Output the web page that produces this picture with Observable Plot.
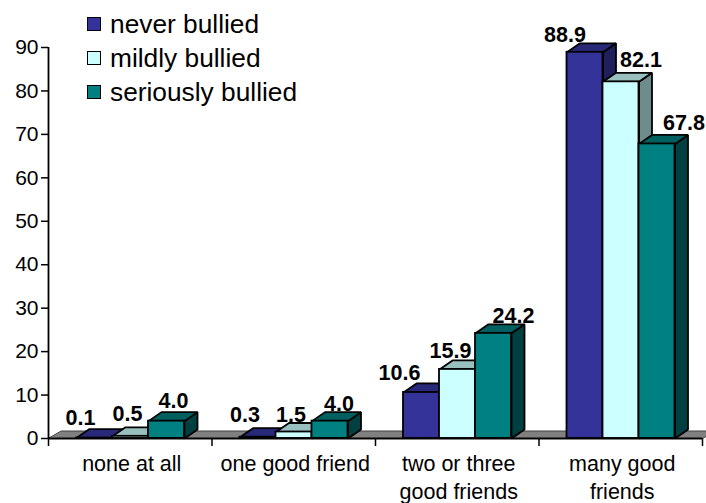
<!DOCTYPE html>
<html>
<head>
<meta charset="utf-8">
<script src="https://cdn.jsdelivr.net/npm/d3@7"></script>
<script src="https://cdn.jsdelivr.net/npm/@observablehq/plot@0.6"></script>
<style>
html,body{margin:0;padding:0;background:#fff}
#wrap{position:relative;width:706px;height:503px;overflow:hidden;font-family:"Liberation Sans",Arial,sans-serif}
#legend{position:absolute;left:87px;top:7px}
.row{display:flex;align-items:center;height:34px;font-size:26.3px;color:#000}
.sw{width:12px;height:12px;border:1.5px solid #000;margin-right:9px}
</style>
</head>
<body>
<div id="wrap"><div id="legend"></div></div>
<script>
const categories = ["none at all", "one good friend", "two or three\ngood friends", "many good\nfriends"];
const seriesNames = ["never bullied", "mildly bullied", "seriously bullied"];
const neverBullied = [0.1, 0.3, 10.6, 88.9];
const mildlyBullied = [0.5, 1.5, 15.9, 82.1];
const seriouslyBullied = [4.0, 4.0, 24.2, 67.8];
const yTicks = [0, 10, 20, 30, 40, 50, 60, 70, 80, 90];

const seriesValues = [neverBullied, mildlyBullied, seriouslyBullied];
const frontColors = ["#333399", "#CCFFFF", "#008080"];
const topColors = ["#29297A", "#99BFBF", "#006060"];
const sideColors = ["#1F1F5C", "#6F8C8C", "#004040"];

// pixel layout
const W = 706, H = 503, mL = 48, mR = 4, mT = 47, mB = 65;
const bandPx = (W - mL - mR) / categories.length;
const yPx = (H - mT - mB) / 90;
const pad = 28 / bandPx, bw = 36 / bandPx;
const ddx = 13 / bandPx, ddy = 9 / yPx, floorDy = 7.5 / yPx;
const edge = 1.8;
// label nudges in pixels from the centre of each bar's front top edge, [series][category]
const nudgeX = [[-14, -13, -22, -20], [-3, -3, -7, 20], [7, 9, 20, 27]];
const nudgeY = [[-13, -15, -12, -10], [-15, -10, -11, -15], [-13, -10, -10, -14]];

const bars = [];
categories.forEach((c, ci) => seriesValues.forEach((vals, si) => {
  const x0 = ci + pad + si * bw;
  bars.push({ci, si, v: vals[ci], x0, x1: x0 + bw});
}));

const poly = (xs, ys, fill) => Plot.line(xs.map((x, i) => ({x, y: ys[i]})), {
  x: "x", y: "y", fill, stroke: "#000", strokeWidth: edge, curve: "linear-closed", strokeLinejoin: "miter"
});

const marks = [
  Plot.line([{x: 0, y: 0}, {x: 4, y: 0}, {x: 4 + ddx, y: floorDy}, {x: ddx, y: floorDy}], {
    x: "x", y: "y", fill: "#808080", stroke: "#404040", strokeWidth: 1, curve: "linear-closed"
  })
];
for (const b of bars) {
  marks.push(
    poly([b.x1, b.x1 + ddx, b.x1 + ddx, b.x1], [0, ddy, b.v + ddy, b.v], sideColors[b.si]),
    poly([b.x0, b.x1, b.x1 + ddx, b.x0 + ddx], [b.v, b.v, b.v + ddy, b.v + ddy], topColors[b.si]),
    Plot.rect([b], {x1: "x0", x2: "x1", y1: 0, y2: "v", fill: frontColors[b.si], stroke: "#000", strokeWidth: edge})
  );
}
marks.push(
  Plot.ruleX([0], {stroke: "#000", strokeWidth: edge}),
  Plot.ruleY([0], {stroke: "#000", strokeWidth: edge}),
  Plot.axisY({ticks: yTicks, tickSize: 7, tickPadding: 3, fontSize: 21, label: null, stroke: "#000", strokeWidth: 1.5, strokeOpacity: 1, fill: "#000"}),
  Plot.axisX({ticks: [0, 1, 2, 3, 4], tickSize: 8, tickFormat: () => "", label: null, stroke: "#000", strokeWidth: 1.5, strokeOpacity: 1}),
  Plot.axisX({ticks: [0.5, 1.5, 2.5, 3.5], tickSize: 0, tickPadding: 13, dx: 1.5, tickFormat: d => categories[Math.floor(d)], label: null, fontSize: 21.5, lineHeight: 1.28, fill: "#000"})
);
for (const b of bars) {
  marks.push(Plot.text([b], {
    x: d => (d.x0 + d.x1) / 2, y: "v", text: d => d.v.toFixed(1),
    dx: nudgeX[b.si][b.ci], dy: nudgeY[b.si][b.ci] ,
    fontSize: 21.5, fontWeight: "bold", fill: "#000", lineAnchor: "bottom"
  }));
}

const svg = Plot.plot({
  width: W, height: H, marginLeft: mL, marginRight: mR, marginTop: mT, marginBottom: mB,
  style: {fontFamily: '"Liberation Sans",Arial,sans-serif', background: "#fff", overflow: "visible"},
  x: {type: "linear", domain: [0, 4], axis: null},
  y: {domain: [0, 90], axis: null},
  marks
});
const wrap = document.getElementById("wrap");
wrap.insertBefore(svg, wrap.firstChild);

const legend = document.getElementById("legend");
seriesNames.forEach((n, i) => {
  const r = document.createElement("div"); r.className = "row";
  const s = document.createElement("div"); s.className = "sw"; s.style.background = frontColors[i];
  const t = document.createElement("span"); t.textContent = n;
  r.append(s, t); legend.append(r);
});
</script>
</body>
</html>
